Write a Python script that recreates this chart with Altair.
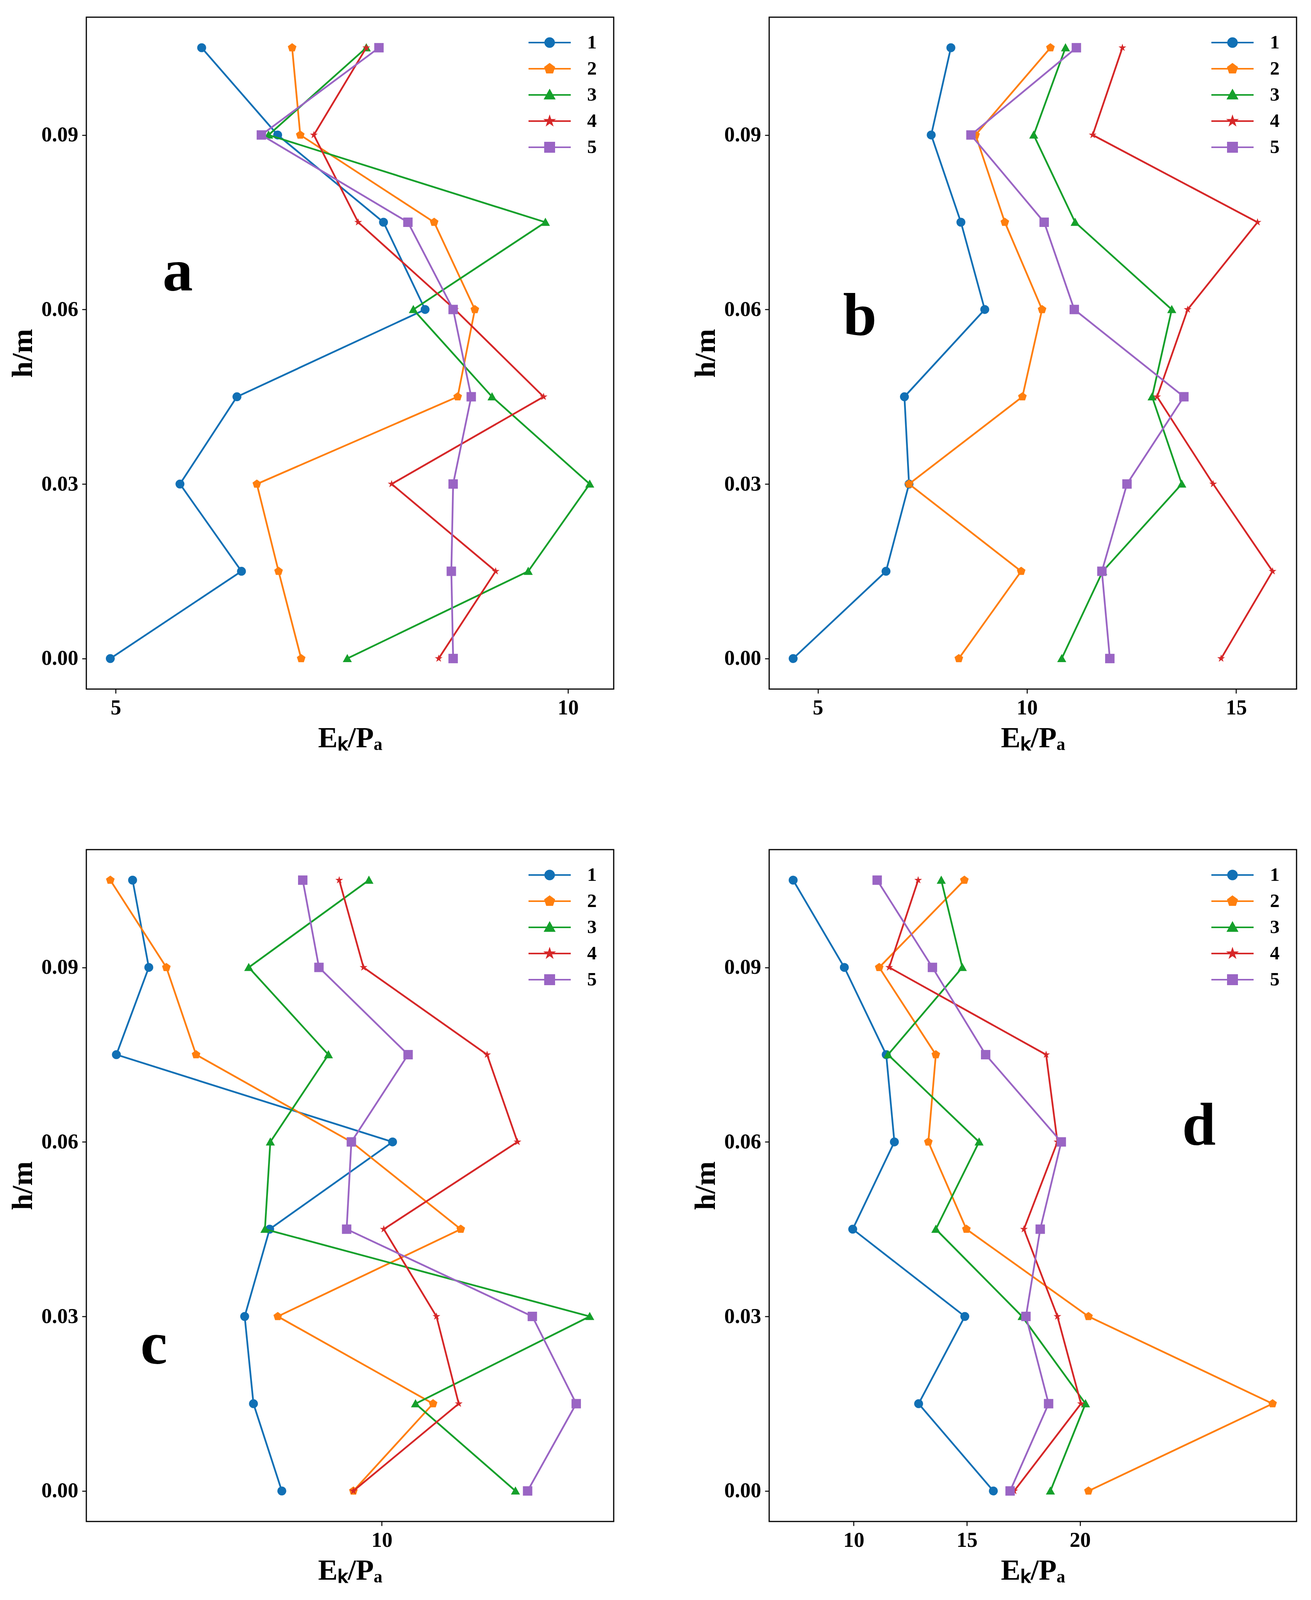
import math
import altair as alt
import pandas as pd

# ---------------- data ----------------
H = [0.0, 0.015, 0.03, 0.045, 0.06, 0.075, 0.09, 0.105]
SERIES = ["1", "2", "3", "4", "5"]

A_S1 = [4.94, 6.39, 5.71, 6.34, 8.42, 7.96, 6.79, 5.95]
A_S2 = [7.05, 6.80, 6.56, 8.78, 8.97, 8.52, 7.04, 6.95]
A_S3 = [7.56, 9.56, 10.24, 9.16, 8.29, 9.75, 6.69, 7.77]
A_S4 = [8.57, 9.20, 8.05, 9.73, 8.75, 7.68, 7.19, 7.77]
A_S5 = [8.73, 8.71, 8.73, 8.93, 8.73, 8.23, 6.61, 7.91]

B_S1 = [4.41, 6.63, 7.18, 7.07, 8.99, 8.42, 7.71, 8.18]
B_S2 = [8.37, 9.86, 7.18, 9.89, 10.36, 9.47, 8.77, 10.56]
B_S3 = [10.83, 11.81, 13.70, 12.99, 13.46, 11.15, 10.16, 10.92]
B_S4 = [14.64, 15.87, 14.45, 13.11, 13.84, 15.51, 11.57, 12.28]
B_S5 = [11.98, 11.79, 12.39, 13.75, 11.13, 10.41, 8.66, 11.18]

C_S1 = [8.52, 8.10, 7.97, 8.34, 10.16, 6.07, 6.55, 6.31]
C_S2 = [9.58, 10.76, 8.46, 11.17, 9.55, 7.25, 6.81, 5.98]
C_S3 = [11.98, 10.50, 13.08, 8.27, 8.35, 9.21, 8.03, 9.81]
C_S4 = [9.58, 11.14, 10.81, 10.03, 12.01, 11.56, 9.73, 9.37]
C_S5 = [12.16, 12.88, 12.23, 9.48, 9.55, 10.39, 9.07, 8.83]

D_S1 = [16.17, 12.87, 14.91, 9.96, 11.80, 11.44, 9.59, 7.33]
D_S2 = [20.37, 28.50, 20.37, 14.98, 13.30, 13.63, 11.13, 14.89]
D_S3 = [18.69, 20.24, 17.44, 13.63, 15.54, 11.52, 14.80, 13.87]
D_S4 = [17.09, 20.04, 19.00, 17.52, 19.00, 18.50, 11.57, 12.85]
D_S5 = [16.91, 18.61, 17.61, 18.24, 19.17, 15.83, 13.48, 11.04]

PANELS = [
    ("a", [A_S1, A_S2, A_S3, A_S4, A_S5]),
    ("b", [B_S1, B_S2, B_S3, B_S4, B_S5]),
    ("c", [C_S1, C_S2, C_S3, C_S4, C_S5]),
    ("d", [D_S1, D_S2, D_S3, D_S4, D_S5]),
]

X_TICKS = [5, 10, 15, 20]
Y_TICKS = [0.0, 0.03, 0.06, 0.09]
X_TITLE = "E\u2096/P\u2090"
Y_TITLE = "h/m"

# ---------------- styles ----------------
COLORS = ["#1170b5", "#ff7f0e", "#15a02b", "#d62728", "#9a65c4"]
SERIF = "Liberation Serif"
W, HT = 1350, 1720

# letter positions (px inside plot area): x centre, baseline
LETTER_POS = {"a": (234, 699), "b": (232, 814), "c": (173, 1316), "d": (1100, 756)}


def poly(points, k):
    return "M" + "L".join(f"{x * k:.3f},{y * k:.3f}" for x, y in points) + "Z"


def circ(r):
    return f"M{r},0A{r},{r},0,1,1,{-r},0A{r},{r},0,1,1,{r},0Z"


PENT = [(math.cos(math.radians(-90 + 72 * i)), math.sin(math.radians(-90 + 72 * i))) for i in range(5)]
STAR = [((1.0 if i % 2 == 0 else 0.382) * math.cos(math.radians(-90 + 36 * i)),
         (1.0 if i % 2 == 0 else 0.382) * math.sin(math.radians(-90 + 36 * i))) for i in range(10)]
TRI = [(0, -1), (1, 0.8), (-1, 0.8)]
SQ = [(-1, -1), (1, -1), (1, 1), (-1, 1)]

POINT_SHAPES = ["circle", poly(PENT, 1.0), poly(TRI, 1.0), poly(STAR, 0.85), "square"]
POINT_SIZES = [520, 540, 540, 600, 580]

LINE = "M-2.35,0H2.35"
LEG_SHAPES = [LINE + circ(0.5), LINE + poly(PENT, 0.54), LINE + poly(TRI, 0.52),
              LINE + poly(STAR, 0.47), LINE + poly(SQ, 0.52)]


def legend():
    return alt.Legend(title=None, orient="none", legendX=1161, legendY=40,
                      symbolSize=2116, symbolStrokeWidth=4, symbolOpacity=1,
                      labelFont=SERIF, labelFontSize=49, labelFontWeight="bold",
                      labelColor="black", labelOffset=71, rowPadding=17, padding=0)


def panel(letter, series):
    rows = []
    for name, vals in zip(SERIES, series):
        for h, v in zip(H, vals):
            rows.append({"s": name, "h": h, "E": v})
    df = pd.DataFrame(rows)
    allv = [v for vals in series for v in vals]
    lo, hi = min(allv), max(allv)
    m = 0.05 * (hi - lo)
    x = alt.X("E:Q", scale=alt.Scale(domain=[lo - m, hi + m], nice=False, zero=False),
              axis=alt.Axis(values=X_TICKS, title=X_TITLE, format="d"))
    y = alt.Y("h:Q", scale=alt.Scale(domain=[-0.00525, 0.11025], nice=False, zero=False),
              axis=alt.Axis(values=Y_TICKS, title=Y_TITLE, format=".2f"))
    layers = []
    for i, name in enumerate(SERIES):
        sub = df[df.s == name]
        layers.append(alt.Chart(sub).mark_line(color=COLORS[i], strokeWidth=4.5)
                      .encode(x=x, y=y, order="h:Q"))
        layers.append(alt.Chart(sub).mark_point(filled=True, opacity=1, color=COLORS[i],
                                                shape=POINT_SHAPES[i], size=POINT_SIZES[i])
                      .encode(x=x, y=y))
    layers.append(
        alt.Chart(df).mark_point(filled=True, size=0, strokeWidth=4).encode(
            x=x, y=y,
            shape=alt.Shape("s:N", scale=alt.Scale(domain=SERIES, range=LEG_SHAPES), legend=legend()),
            fill=alt.Fill("s:N", scale=alt.Scale(domain=SERIES, range=COLORS), legend=legend()),
            stroke=alt.Stroke("s:N", scale=alt.Scale(domain=SERIES, range=COLORS), legend=legend()),
        )
    )
    px, py = LETTER_POS[letter]
    layers.append(
        alt.Chart(pd.DataFrame({"t": [letter]})).mark_text(
            font=SERIF, fontSize=155, fontWeight="bold", color="black",
            align="center", baseline="alphabetic"
        ).encode(text="t:N", x=alt.value(px), y=alt.value(py))
    )
    return alt.layer(*layers).properties(width=W, height=HT)


RES = dict(shape="independent", fill="independent", stroke="independent")
charts = [panel(l, s) for l, s in PANELS]
top = alt.hconcat(charts[0], charts[1], spacing=195).resolve_legend(**RES).resolve_scale(**RES)
bottom = alt.hconcat(charts[2], charts[3], spacing=195).resolve_legend(**RES).resolve_scale(**RES)

chart = alt.vconcat(top, bottom, spacing=244).resolve_legend(**RES).resolve_scale(**RES).properties(
    padding={"top": 34, "left": 12, "right": 10, "bottom": 0}, background="white"
).configure_view(stroke="black", strokeWidth=3).configure_axis(
    labelFont=SERIF, labelFontSize=54, labelFontWeight="bold", labelColor="black",
    titleFont=SERIF, titleFontSize=75, titleFontWeight="bold", titleColor="black",
    tickColor="black", tickSize=11, tickWidth=2.5, domain=False, grid=False,
    labelPadding=10
).configure_axisX(titlePadding=14).configure_axisY(titlePadding=8)

chart.save("out.html", embed_options={"renderer": "svg", "actions": False})
